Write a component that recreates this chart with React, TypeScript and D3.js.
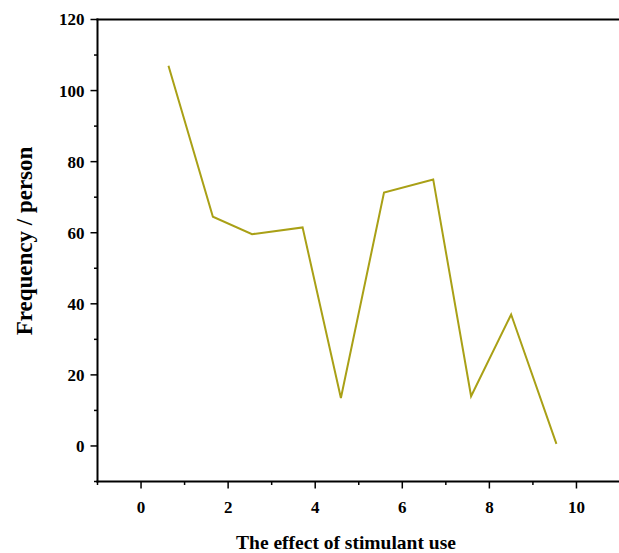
import React from 'react'
import { scaleLinear, line } from 'd3'

const xValues = [0.63, 1.65, 2.55, 3.71, 4.59, 5.58, 6.71, 7.58, 8.5, 9.54]
const yValues = [107, 64.5, 59.6, 61.5, 13.5, 71.3, 75.0, 14.0, 37.0, 0.6]
const xTicks = [0, 2, 4, 6, 8, 10]
const xMinor = [-1, 1, 3, 5, 7, 9, 11]
const yTicks = [0, 20, 40, 60, 80, 100, 120]
const yMinor = [-10, 10, 30, 50, 70, 90, 110]

const width = 619
const height = 553
const left = 97.5
const right = 620
const top = 19.5
const bottom = 481.5

const font = '"Liberation Serif", "Times New Roman", serif'

const App = () => {
    const x = scaleLinear().domain([-1, 11]).range([left, right])
    const y = scaleLinear().domain([-10, 120]).range([bottom, top])

    const pts = xValues.map((v, i) => [v, yValues[i]] as [number, number])
    const path = line<[number, number]>().x(d => x(d[0])).y(d => y(d[1]))(pts)

    return (
        <svg width={width} height={height} style={{ position: 'absolute', left: 0, top: 0, background: '#fff' }}>
            <path d={path || ''} fill="none" stroke="#a9a016" strokeWidth={2} strokeLinejoin="miter" />

            {/* axes frame */}
            <line x1={left} x2={left} y1={top - 1} y2={bottom + 1} stroke="#000" strokeWidth={2} />
            <line x1={left - 1} x2={right} y1={bottom} y2={bottom} stroke="#000" strokeWidth={2} />
            <line x1={left - 1} x2={right} y1={top} y2={top} stroke="#000" strokeWidth={2} />

            {yTicks.map(t => (
                <g key={'y' + t}>
                    <line x1={left - 7} x2={left} y1={y(t)} y2={y(t)} stroke="#000" strokeWidth={1.5} />
                    <text x={left - 13} y={y(t)} dy="0.35em" textAnchor="end"
                        fontFamily={font} fontWeight="bold" fontSize={17}>{t}</text>
                </g>
            ))}
            {yMinor.map(t => (
                <line key={'ym' + t} x1={left - 3.5} x2={left} y1={y(t)} y2={y(t)} stroke="#000" strokeWidth={1.5} />
            ))}

            {xTicks.map(t => (
                <g key={'x' + t}>
                    <line x1={x(t)} x2={x(t)} y1={bottom} y2={bottom + 7} stroke="#000" strokeWidth={1.5} />
                    <text x={x(t)} y={bottom + 31.5} textAnchor="middle"
                        fontFamily={font} fontWeight="bold" fontSize={17}>{t}</text>
                </g>
            ))}
            {xMinor.map(t => (
                <line key={'xm' + t} x1={x(t)} x2={x(t)} y1={bottom} y2={bottom + 3.5} stroke="#000" strokeWidth={1.5} />
            ))}

            <text x={346} y={549} textAnchor="middle" fontFamily={font} fontWeight="bold" fontSize={19.5}>
                The effect of stimulant use
            </text>
            <text transform="translate(32, 241) rotate(-90)" textAnchor="middle"
                fontFamily={font} fontWeight="bold" fontSize={23}>
                Frequency / person
            </text>
        </svg>
    )
}

export default App
